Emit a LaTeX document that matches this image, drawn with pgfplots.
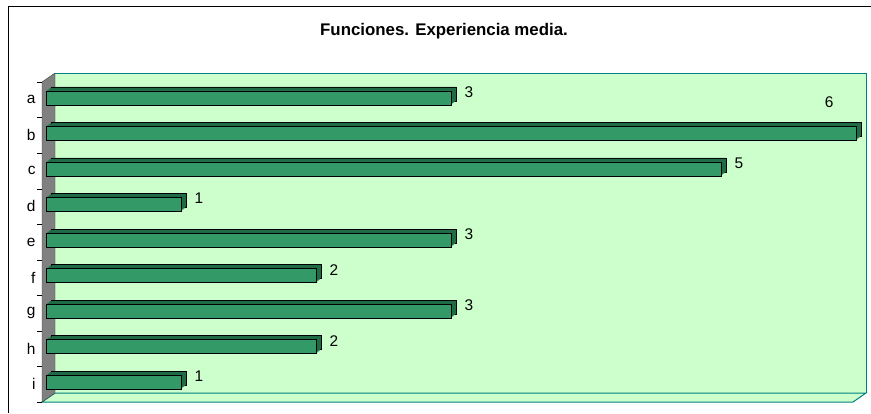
\documentclass[border=0pt]{standalone}
\usepackage{pgfplots}
\pgfplotsset{compat=1.18}
\usepackage{fontspec}
\setmainfont{Liberation Sans}
\definecolor{wall}{HTML}{CCFFCC}
\definecolor{edge}{HTML}{008080}
\definecolor{barf}{HTML}{339966}
\definecolor{bart}{HTML}{1F6B45}
\pgfplotstableread{
v  c
3  1
6  2
5  3
1  4
3  5
2  6
3  7
2  8
1  9
}\bardata
\begin{document}
\begin{tikzpicture}[x=1bp,y=1bp]
\useasboundingbox (0,0) rectangle (871,413);
\draw[line width=1bp] (8,0)--(8,406)--(871,406);
\node[font=\bfseries\fontsize{16.9}{19}\selectfont] at (444,382) {Funciones. Experiencia media.};
\fill[wall] (55,20) rectangle (866,340);
\draw[edge, line width=1bp] (55,340)--(866,340)--(866,20);
\filldraw[fill=wall,draw=edge, line width=1bp] (42,11)--(55,20)--(866,20)--(853,11)--cycle;
\filldraw[fill=gray,draw=black!75] (42,11)--(42,331)--(55,340)--(55,20)--cycle;
\begin{axis}[at={(42bp,11bp)}, anchor=south west, scale only axis,
  width=811bp, height=320bp, xmin=0, xmax=6.0074, ymin=0.5, ymax=9.5,
  y dir=reverse, clip=false,
  axis line style={draw=none}, hide x axis,
  ytick={1,...,9}, yticklabels={a,b,c,d,e,f,g,h,i},
  minor ytick={0.5,1.5,...,9.5},
  major tick length=0pt, minor tick length=5bp, tick align=outside,
  ytick pos=left, ytick style={draw=black},
  y tick label style={font=\fontsize{15.5}{17}\selectfont, xshift=-3bp},
  every node near coord/.append style={font=\fontsize{15.5}{17}\selectfont, xshift=18bp, yshift=-3bp},
]
\addplot[xbar, bar width=14bp, fill=bart, draw=black, xshift=9bp, yshift=6bp] table[x=v,y=c] {\bardata};
\addplot[xbar, bar width=14bp, fill=bart, draw=none, xshift=7.75bp, yshift=5bp] table[x=v,y=c] {\bardata};
\addplot[xbar, bar width=14bp, fill=bart, draw=none, xshift=6.5bp, yshift=4bp] table[x=v,y=c] {\bardata};
\addplot[xbar, bar width=14bp, fill=bart, draw=none, xshift=5.25bp, yshift=3bp] table[x=v,y=c] {\bardata};
\addplot[xbar, bar width=14bp, fill=barf, draw=black, xshift=4bp, yshift=2bp,
  nodes near coords, point meta=explicit symbolic] coordinates {
(3,1) [3] (6,2) [] (5,3) [5] (1,4) [1] (3,5) [3] (2,6) [2] (3,7) [3] (2,8) [2] (1,9) [1]};
\node[font=\fontsize{15.5}{17}\selectfont] at (axis cs:5.83,1.06) {6};
\end{axis}
\end{tikzpicture}
\end{document}
